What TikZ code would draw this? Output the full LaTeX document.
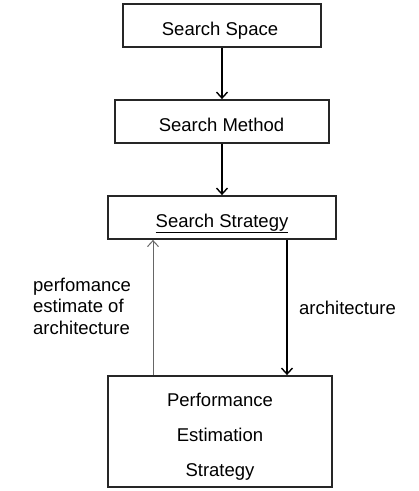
\documentclass[tikz,border=0pt]{standalone}
\usepackage{fontspec}
\setmainfont{Liberation Sans}
\usetikzlibrary{arrows.meta}
\begin{document}
\begin{tikzpicture}[x=1pt,y=-1pt,
  box/.style={draw=black!85,line width=1.8pt,inner sep=0pt},
  lbl/.style={inner sep=0pt,font=\fontsize{18.5}{21.5}\selectfont},
  arr/.style={line width=1.4pt,-{Straight Barb[length=6pt,width=11pt,line width=1.4pt]}},
  garr/.style={line width=0.8pt,draw=black!60,-{Straight Barb[length=6pt,width=11pt,line width=1pt]}}]
\useasboundingbox (0,0) rectangle (419,491);
\node[box,minimum width=198pt,minimum height=43pt] (space) at (222,25.5) {};
\node[lbl,anchor=base] (spacet) at (220,35) {Search Space};
\node[box,minimum width=214pt,minimum height=43pt] (method) at (222,121.5) {};
\node[lbl,anchor=base] (methodt) at (221.5,131) {Search Method};
\node[box,minimum width=228pt,minimum height=43pt] (strat) at (222,217.5) {};
\node[lbl,anchor=base] (stratt) at (222,227) {\underline{Search Strategy}};
\node[box,minimum width=224pt,minimum height=111pt] (perf) at (220,431.5) {};
\node[lbl,align=center,anchor=base,font=\fontsize{18.5}{35}\selectfont] (perft) at (220,476) {Performance\\Estimation\\Strategy};
\coordinate (lx) at (153,0);
\coordinate (rx) at (287,0);
\draw[arr] (space) -- (method);
\draw[arr] (method) -- (strat);
\draw[arr] (strat.south -| rx) -- (perf.north -| rx);
\draw[garr] (perf.north -| lx) -- (strat.south -| lx);
\node[lbl,align=left,anchor=base west] (perfl) at (33,334) {perfomance\\estimate of\\architecture};
\node[lbl,anchor=base west] (archl) at (299,314) {architecture};
\end{tikzpicture}
\end{document}
